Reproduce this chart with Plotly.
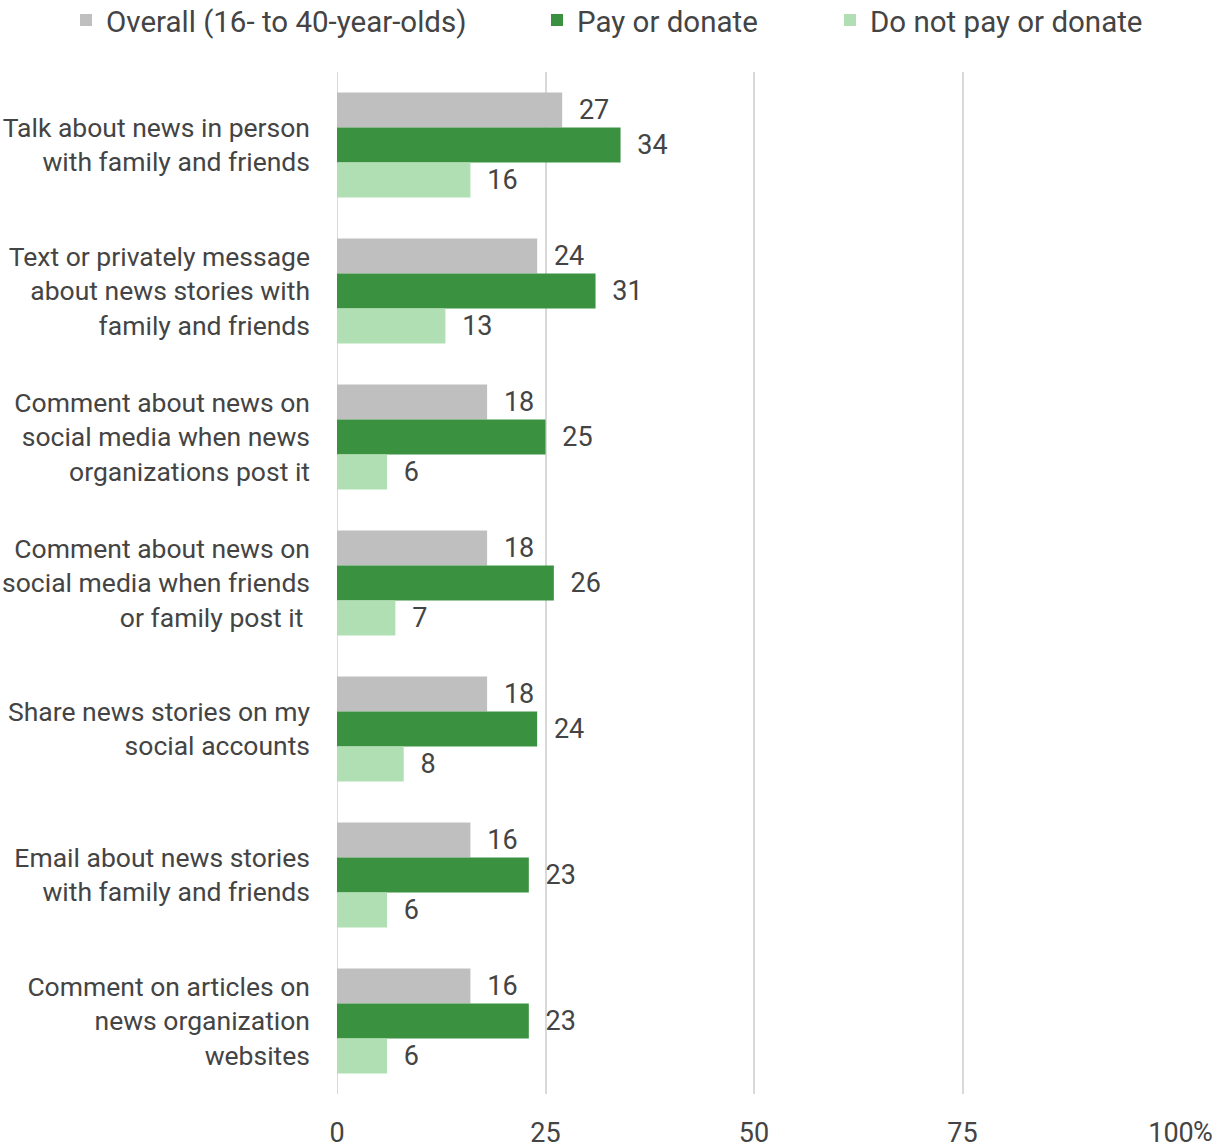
import plotly.graph_objects as go

categories = [
    "Talk about news in person<br>with family and friends",
    "Text or privately message<br>about news stories with<br>family and friends",
    "Comment about news on<br>social media when news<br>organizations post it",
    "Comment about news on<br>social media when friends<br>or family post it ",
    "Share news stories on my<br>social accounts",
    "Email about news stories<br>with family and friends",
    "Comment on articles on<br>news organization<br>websites",
]
overall = [27, 24, 18, 18, 18, 16, 16]
pay = [34, 31, 25, 26, 24, 23, 23]
no_pay = [16, 13, 6, 7, 8, 6, 6]
series_names = ["Overall (16- to 40-year-olds)", "Pay or donate", "Do not pay or donate"]
series_values = [overall, pay, no_pay]
colors = ["#bfbfbf", "#3a9140", "#b1dfb4"]
tick_vals = [0, 25, 50, 75, 100]
tick_text = ["0", "25", "50", "75", "100"]

FONT = "Roboto"
TXT = "#444444"
W, H = 1231, 1146
legend_ids = ["legend", "legend2", "legend3"]
legend_text_x = [106, 577, 870]

fig = go.Figure()
for name, vals, col, lid in zip(series_names, series_values, colors, legend_ids):
    fig.add_trace(go.Bar(
        y=categories, x=vals, name=name, orientation="h",
        marker=dict(color=col, line=dict(width=0)),
        text=vals, texttemplate="\u2002%{x}", textposition="outside",
        textfont=dict(family=FONT, size=27, color=TXT),
        cliponaxis=False, legend=lid, showlegend=True,
    ))

legend_common = dict(orientation="h", y=1.076, yanchor="top", yref="paper",
                     xref="container", xanchor="left",
                     font=dict(family=FONT, size=29.5, color=TXT),
                     itemwidth=30, borderwidth=0)

fig.update_layout(
    width=W, height=H,
    margin=dict(l=337, r=60, t=72, b=52, autoexpand=False),
    paper_bgcolor="white", plot_bgcolor="white",
    barmode="group", bargap=0.28, bargroupgap=0,
    font=dict(family=FONT, size=26, color=TXT),
    showlegend=True,
    legend=dict(x=(legend_text_x[0] - 40) / W, **legend_common),
    legend2=dict(x=(legend_text_x[1] - 40) / W, **legend_common),
    legend3=dict(x=(legend_text_x[2] - 40) / W, **legend_common),
    xaxis=dict(range=[0, 100], tickvals=tick_vals, ticktext=tick_text,
               showgrid=True, gridcolor="#d9d9d9", gridwidth=2, automargin=False,
               zeroline=False, showline=False, ticks="", ticklabelstandoff=20,
               tickfont=dict(family=FONT, size=27, color=TXT), fixedrange=True),
    yaxis=dict(autorange="reversed", showgrid=False, showline=False, ticks="",
               ticklabelstandoff=26, automargin=False,
               tickfont=dict(family=FONT, size=26.5, color=TXT)),
    annotations=[dict(x=100, y=0, xref="x", yref="paper", text="%", showarrow=False,
                      xanchor="left", yanchor="top", xshift=20, yshift=-20,
                      font=dict(family=FONT, size=27, color=TXT))],
)
fig.add_shape(type="line", x0=0, x1=0, y0=0, y1=1, xref="x", yref="paper",
              line=dict(color="#d9d9d9", width=2), layer="below")

fig.write_html("out.html", config={"displayModeBar": False},
               post_script="document.body.style.margin='0';")
